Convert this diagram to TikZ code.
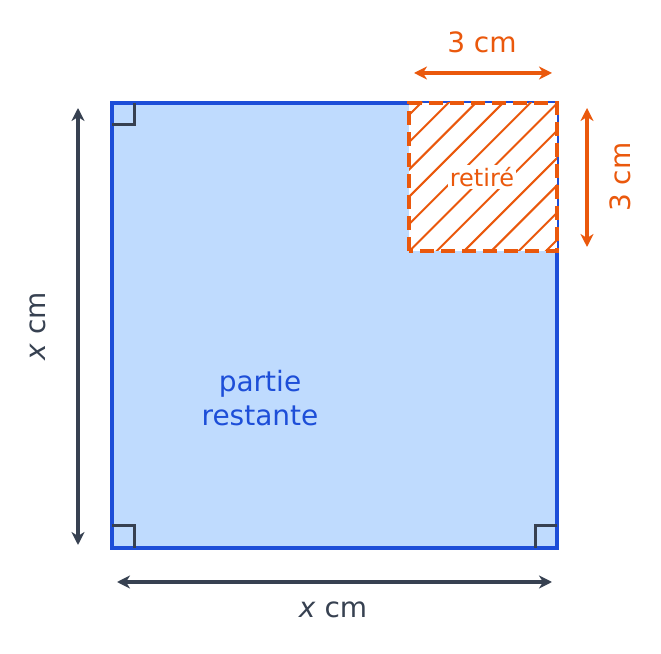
\documentclass[tikz,border=0pt]{standalone}
\usepackage{fontspec}
\setmainfont{DejaVu Sans}
\usetikzlibrary{calc,arrows.meta}
\definecolor{bordblue}{HTML}{1D4ED8}
\definecolor{fillblue}{HTML}{BFDBFE}
\definecolor{cutorange}{HTML}{EA580C}
\definecolor{slate}{HTML}{374151}

\begin{document}
\begin{tikzpicture}[x=1pt,y=1pt,
	dimline/.style={line width=3.2pt, {Stealth[length=13pt,width=13pt,inset=4pt]}-{Stealth[length=13pt,width=13pt,inset=4pt]}},
	rightmark/.style={line width=3pt, color=slate},
	biglabel/.style={font=\fontsize{28}{34}\selectfont, align=center}]
		%%%%% START %%%%%
		\useasboundingbox (0, 0) rectangle (661, 653);
		
		% big square
		\draw[line width=4pt, color=bordblue, fill=fillblue] (112, 105) rectangle (557, 550);
		
		% removed corner
		\fill[white] (409, 402) rectangle (557, 550);
		\begin{scope}
			\clip (409, 402) rectangle (557, 550);
			\foreach \k in {0,...,10}
				\draw[line width=2pt, color=cutorange] ($(409, 538)+(27.3*\k, 0)$) -- ++(200, 200) ($(409, 538)+(27.3*\k, 0)$) -- ++(-200, -200);
		\end{scope}
		\draw[line width=4pt, color=cutorange, dash pattern=on 14pt off 7pt] (409, 402) rectangle (557, 550);
		\node[fill=white, inner sep=2pt, text=cutorange, font=\fontsize{24}{28}\selectfont] (retire) at (482, 476) {retiré};
		
		% right angles
		\draw[rightmark] (112, 528) -- (134, 528) -- (134, 550);
		\draw[rightmark] (112, 127) -- (134, 127) -- (134, 105);
		\draw[rightmark] (557, 127) -- (535, 127) -- (535, 105);
		
		\node[biglabel, text=bordblue] (rest) at (260, 255) {partie\\restante};
		
		% dimensions of the square
		\draw[dimline, color=slate] (78, 545) -- (78, 108);
		\node[biglabel, text=slate, rotate=90] (xleft) at (38, 327) {\textit{x} cm};
		\draw[dimline, color=slate] (117, 71) -- (552, 71);
		\node[biglabel, text=slate] (xbottom) at (333, 43) {\textit{x} cm};
		
		% dimensions of the corner
		\draw[dimline, color=cutorange] (414, 580) -- (552, 580);
		\node[biglabel, text=cutorange] (ctop) at (482, 611) {3 cm};
		\draw[dimline, color=cutorange] (587, 545) -- (587, 406);
		\node[biglabel, text=cutorange, rotate=90] (cright) at (620, 476) {3 cm};
		
		%%%%% END %%%%%
	\end{tikzpicture}
\end{document}
